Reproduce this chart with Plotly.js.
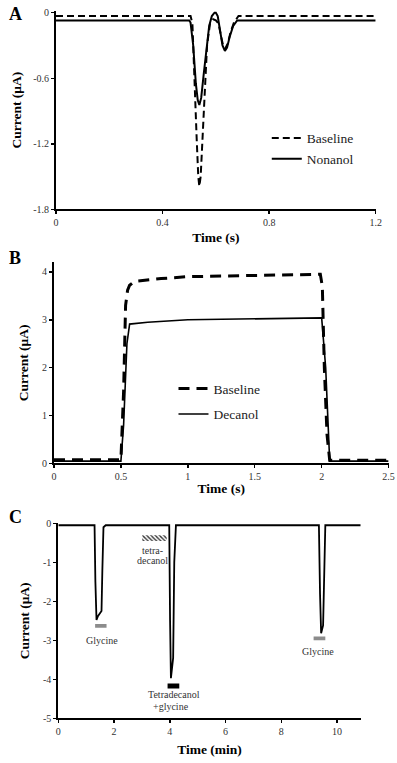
<!DOCTYPE html>
<html>
<head>
<meta charset="utf-8">
<script src="https://cdn.plot.ly/plotly-3.0.1.min.js"></script>
<style>html,body{margin:0;padding:0;background:#fff;}#chart{width:397px;height:763px;}</style>
</head>
<body>
<div id="chart"></div>
<script>
// ---------- Panel A ----------
const aBaseTime = [0, 0.505, 0.512, 0.52, 0.528, 0.534, 0.538, 0.543, 0.55, 0.558, 0.567, 0.578, 0.59, 0.60, 0.61, 0.62, 0.628, 0.635, 0.645, 0.655, 0.668, 0.685, 1.2];
const aBaseCurrent = [-0.03, -0.03, -0.1, -0.55, -1.15, -1.5, -1.59, -1.5, -1.15, -0.7, -0.3, -0.1, -0.06, -0.07, -0.1, -0.22, -0.31, -0.33, -0.28, -0.18, -0.09, -0.03, -0.03];
const aNonTime = [0, 0.50, 0.505, 0.515, 0.525, 0.532, 0.538, 0.545, 0.555, 0.565, 0.575, 0.585, 0.595, 0.60, 0.607, 0.615, 0.625, 0.634, 0.642, 0.652, 0.665, 0.68, 1.2];
const aNonCurrent = [-0.07, -0.07, -0.09, -0.3, -0.65, -0.8, -0.845, -0.78, -0.55, -0.3, -0.12, -0.03, 0, 0, -0.03, -0.15, -0.3, -0.35, -0.32, -0.22, -0.12, -0.07, -0.07];
const aXTicks = [0, 0.4, 0.8, 1.2];
const aXTickText = ['0', '0.4', '0.8', '1.2'];
const aYTicks = [0, -0.6, -1.2, -1.8];
const aYTickText = ['0', '-0.6', '-1.2', '-1.8'];

// ---------- Panel B ----------
const bBaseTime = [0, 0.5, 0.52, 0.535, 0.55, 0.565, 0.6, 0.8, 1.0, 1.5, 1.99, 2.005, 2.02, 2.04, 2.06, 2.5];
const bBaseCurrent = [0.08, 0.08, 1.5, 3.3, 3.62, 3.72, 3.8, 3.86, 3.9, 3.93, 3.95, 3.7, 2.0, 0.6, 0.07, 0.07];
const bDecTime = [0, 0.5, 0.52, 0.545, 0.565, 0.7, 1.0, 1.5, 2.0, 2.03, 2.06, 2.5];
const bDecCurrent = [0.05, 0.05, 0.8, 2.5, 2.91, 2.95, 3.0, 3.02, 3.04, 2.0, 0.05, 0.05];
const bXTicks = [0, 0.5, 1, 1.5, 2, 2.5];
const bXTickText = ['0', '0.5', '1', '1.5', '2', '2.5'];
const bYTicks = [0, 1, 2, 3, 4];
const bYTickText = ['0', '1', '2', '3', '4'];

// ---------- Panel C ----------
const cTime = [0, 1.3, 1.33, 1.37, 1.42, 1.55, 1.58, 1.62, 1.7, 3.98, 4.01, 4.04, 4.12, 4.16, 4.22, 9.35, 9.39, 9.43, 9.5, 9.53, 9.58, 10.85];
const cCurrent = [-0.05, -0.05, -1.5, -2.48, -2.38, -2.25, -1.2, -0.1, -0.05, -0.05, -2.5, -3.97, -3.45, -1.0, -0.05, -0.05, -1.8, -2.82, -2.62, -1.2, -0.05, -0.05];
const cXTicks = [0, 2, 4, 6, 8, 10];
const cXTickText = ['0', '2', '4', '6', '8', '10'];
const cYTicks = [0, -1, -2, -3, -4, -5];
const cYTickText = ['0', '-1', '-2', '-3', '-4', '-5'];
// application bars
const glyBarStart = [1.32, 9.16];
const glyBarEnd = [1.73, 9.58];
const glyBarLevel = [-2.63, -2.95];
const tetBarStart = [3.01];
const tetBarEnd = [3.89];
const tetBarLevel = [-0.38];
const mixBarStart = [3.92];
const mixBarEnd = [4.34];
const mixBarLevel = [-4.17];
// labels
const cLabelText = ['Glycine', 'tetra-', 'decanol', 'Tetradecanol', '+glycine', 'Glycine'];
const cLabelX = [1.556, 3.38, 3.38, 4.15, 4.03, 9.32];
const cLabelY = [-3.0, -0.69, -0.95, -4.38, -4.71, -3.29];

const panelLetters = ['A', 'B', 'C'];

const FONT = '"Liberation Serif", "Times New Roman", serif';
const TICKCOL = '#333';

function diff(a, b) { return a.map((v, i) => b[i] - v); }

const traces = [
  {x: aBaseTime, y: aBaseCurrent, xaxis: 'x', yaxis: 'y', mode: 'lines', name: 'Baseline',
   line: {color: '#000', width: 2, dash: '7px,4px'}, legend: 'legend', legendgroup: 'a1'},
  {x: aNonTime, y: aNonCurrent, xaxis: 'x', yaxis: 'y', mode: 'lines', name: 'Nonanol',
   line: {color: '#000', width: 2}, legend: 'legend', legendgroup: 'a2'},
  {x: bBaseTime, y: bBaseCurrent, xaxis: 'x2', yaxis: 'y2', mode: 'lines', name: 'Baseline',
   line: {color: '#000', width: 3, dash: '11px,7px'}, legend: 'legend2', legendgroup: 'b1'},
  {x: bDecTime, y: bDecCurrent, xaxis: 'x2', yaxis: 'y2', mode: 'lines', name: 'Decanol',
   line: {color: '#000', width: 1.6}, legend: 'legend2', legendgroup: 'b2'},
  {x: cTime, y: cCurrent, xaxis: 'x3', yaxis: 'y3', mode: 'lines', showlegend: false,
   line: {color: '#000', width: 1.8}},
  {type: 'bar', orientation: 'h', xaxis: 'x3', yaxis: 'y3', showlegend: false,
   base: glyBarStart, x: diff(glyBarStart, glyBarEnd), y: glyBarLevel, width: 0.1,
   marker: {color: '#8c8c8c', line: {width: 0}}},
  {type: 'bar', orientation: 'h', xaxis: 'x3', yaxis: 'y3', showlegend: false,
   base: mixBarStart, x: diff(mixBarStart, mixBarEnd), y: mixBarLevel, width: 0.13,
   marker: {color: '#000', line: {width: 0}}},
  {type: 'bar', orientation: 'h', xaxis: 'x3', yaxis: 'y3', showlegend: false,
   base: tetBarStart, x: diff(tetBarStart, tetBarEnd), y: tetBarLevel, width: 0.15,
   marker: {color: '#fff', line: {width: 0},
            pattern: {shape: '\\', fgcolor: '#333', bgcolor: '#fff', size: 3, solidity: 0.45}}}
];

function xax(domain, range, tv, tt, title, standoff) {
  return {domain: domain, range: range, tickvals: tv, ticktext: tt, showline: true, linecolor: '#000',
    linewidth: 2, ticks: 'outside', ticklen: 3, tickwidth: 1.5, tickcolor: '#000', showgrid: false,
    zeroline: false, fixedrange: true, tickfont: {family: FONT, size: 10, color: TICKCOL},
    title: {text: '<b>' + title + '</b>', font: {family: FONT, size: 13.5, color: '#000'}, standoff: standoff}};
}
function yax(domain, range, tv, tt, anchor, standoff) {
  const o = xax(domain, range, tv, tt, 'Current (μA)', standoff);
  o.anchor = anchor;
  return o;
}

const layout = {
  width: 397, height: 763,
  margin: {l: 0, r: 0, t: 0, b: 0},
  paper_bgcolor: '#fff', plot_bgcolor: 'rgba(0,0,0,0)',
  font: {family: FONT, color: '#000'},
  barmode: 'overlay',
  showlegend: true,
  xaxis: Object.assign(xax([0.1411, 0.9463], [0, 1.2], aXTicks, aXTickText, 'Time (s)', 5), {anchor: 'y'}),
  yaxis: yax([0.7257, 0.98545], [-1.8, 0.015], aYTicks, aYTickText, 'x', 8),
  xaxis2: Object.assign(xax([0.136, 0.9788], [0, 2.5], bXTicks, bXTickText, 'Time (s)', 2), {anchor: 'y2'}),
  yaxis2: yax([0.39253, 0.65623], [0, 4.2], bYTicks, bYTickText, 'x2', 10),
  xaxis3: Object.assign(xax([0.1469, 0.9086], [0, 10.85], cXTicks, cXTickText, 'Time (min)', 8), {anchor: 'y3'}),
  yaxis3: yax([0.05858, 0.31415], [-5, 0], cYTicks, cYTickText, 'x3', 10),
  legend: {x: 0.672, y: 0.839, xanchor: 'left', yanchor: 'top', bgcolor: 'rgba(0,0,0,0)',
           font: {family: FONT, size: 13.5, color: '#222'}, tracegroupgap: 0, itemclick: false},
  legend2: {x: 0.437, y: 0.511, xanchor: 'left', yanchor: 'top', bgcolor: 'rgba(0,0,0,0)',
           font: {family: FONT, size: 13.5, color: '#222'}, tracegroupgap: 5, itemclick: false},
  annotations: []
};

const letterY = [0.982, 0.662, 0.323];
panelLetters.forEach((t, i) => layout.annotations.push({
  text: '<b>' + t + '</b>', xref: 'paper', yref: 'paper', x: 0.038, y: letterY[i],
  xanchor: 'center', yanchor: 'middle', showarrow: false, font: {family: FONT, size: 18, color: '#000'}
}));
cLabelText.forEach((t, i) => layout.annotations.push({
  text: t, xref: 'x3', yref: 'y3', x: cLabelX[i], y: cLabelY[i], xanchor: 'center', yanchor: 'middle',
  showarrow: false, font: {family: FONT, size: 10, color: '#333'}
}));

Plotly.newPlot('chart', traces, layout, {staticPlot: true, displayModeBar: false});
</script>
</body>
</html>
